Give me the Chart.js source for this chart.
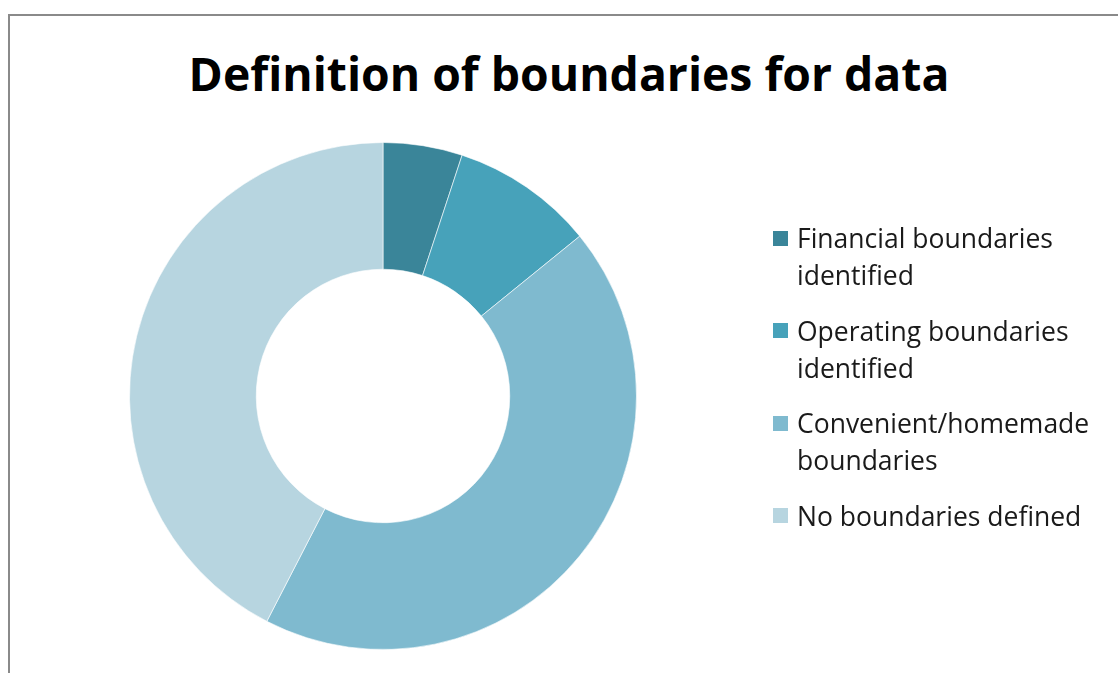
<!DOCTYPE html>
<html>
<head>
<meta charset="utf-8">
<script src="https://cdn.jsdelivr.net/npm/chart.js@4.4.1/dist/chart.umd.min.js"></script>
<style>
  html, body { margin: 0; padding: 0; background: #fff; }
  body { width: 1118px; height: 673px; position: relative; overflow: hidden; font-family: "Open Sans", "DejaVu Sans", sans-serif; }
  #frame { position: absolute; left: 8px; top: 14px; width: 1200px; height: 800px; border-top: 2px solid #8a8a8a; border-left: 2px solid #8a8a8a; }
  #title { position: absolute; left: 20px; width: 1098px; top: 41px; text-align: center; font-size: 46.3px; line-height: 66px; font-weight: bold; color: #000; white-space: nowrap; }
  #wrap { position: absolute; left: 0; top: 0; width: 1118px; height: 673px; }
  #legend { position: absolute; left: 773px; top: 220px; display: flex; flex-direction: column; gap: 18.5px; }
  .item { display: flex; align-items: flex-start; }
  .box { width: 15px; height: 15px; margin-top: 10.5px; margin-right: 9px; flex: none; }
  .txt { font-size: 26.5px; line-height: 37px; color: #1a1a1a; white-space: nowrap; }
</style>
</head>
<body>
<div id="frame"></div>
<div id="title">Definition of boundaries for data</div>
<div id="wrap"><canvas id="chart"></canvas></div>
<div id="legend"></div>
<script>
'use strict';

// categories and shares (percent of respondents)
const categories = [
  ['Financial boundaries', 'identified'],
  ['Operating boundaries', 'identified'],
  ['Convenient/homemade', 'boundaries'],
  ['No boundaries defined']
];
const shares = [5, 9, 43, 42];
const sliceColors = ['#3a8599', '#47a2ba', '#7fbacf', '#b7d5e0'];

// legend on the right, built from the same arrays
const legendEl = document.getElementById('legend');
categories.forEach(function (lines, i) {
  const item = document.createElement('div');
  item.className = 'item';
  const box = document.createElement('div');
  box.className = 'box';
  box.style.background = sliceColors[i];
  const txt = document.createElement('div');
  txt.className = 'txt';
  txt.innerHTML = lines.join('<br>');
  item.appendChild(box);
  item.appendChild(txt);
  legendEl.appendChild(item);
});

const ctx = document.getElementById('chart').getContext('2d');
new Chart(ctx, {
  type: 'doughnut',
  data: {
    labels: categories.map(function (l) { return l.join(' '); }),
    datasets: [{
      data: shares,
      backgroundColor: sliceColors,
      borderColor: 'rgba(255,255,255,0.6)',
      borderWidth: 1,
    }],
  },
  options: {
    responsive: true,
    maintainAspectRatio: false,
    animation: false,
    cutout: '50%',
    layout: {
      // square plot area: 129..637 x 142..650
      padding: { left: 129, right: 481, top: 142, bottom: 23 },
    },
    plugins: {
      legend: { display: false },
      tooltip: { enabled: false },
      title: { display: false },
    },
  },
});
</script>
</body>
</html>
